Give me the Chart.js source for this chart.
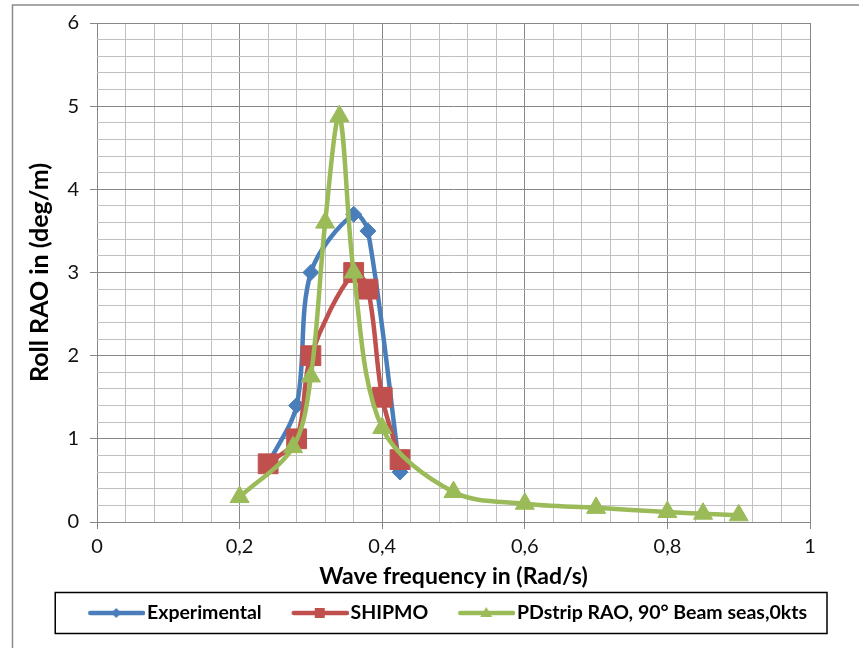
<!DOCTYPE html>
<html lang="en">
  <head>
    <meta charset="UTF-8" />
    <title>Roll RAO</title>
    <script src="https://cdn.jsdelivr.net/npm/chart.js"></script>
    <style>
      html, body { margin: 0; padding: 0; background: #fff; }
      #wrap { width: 859px; height: 648px; position: relative; }
    </style>
  </head>
  <body>
    <div id="wrap"><canvas id="rao"></canvas></div>

    <script>
      // data
      const expFreq = [0.24, 0.28, 0.30, 0.36, 0.38, 0.425];
      const expRao = [0.7, 1.4, 3.0, 3.7, 3.5, 0.6];

      const shipmoFreq = [0.24, 0.28, 0.30, 0.36, 0.38, 0.40, 0.425];
      const shipmoRao = [0.7, 1.0, 2.0, 3.0, 2.8, 1.5, 0.75];

      const pdFreq = [0.2, 0.275, 0.30, 0.32, 0.34, 0.36, 0.40, 0.50, 0.60, 0.70, 0.80, 0.85, 0.90];
      const pdRao = [0.3, 0.9, 1.75, 3.6, 4.88, 3.0, 1.13, 0.36, 0.22, 0.17, 0.12, 0.10, 0.08];

      const seriesNames = ["Experimental", "SHIPMO", "PDstrip RAO, 90° Beam seas,0kts"];
      const seriesColors = ["#4a7ebb", "#c0504d", "#9bbb59"];

      const toPoints = (xs, ys) => xs.map((x, i) => ({ x: x, y: ys[i] }));

      // legend marker: line with the point in the middle
      const ICON_BOX = 76;
      const ICON_W = 92;
      function legendIcon(color, shape) {
        const c = document.createElement("canvas");
        c.width = ICON_W;
        c.height = 18;
        const g = c.getContext("2d");
        const x0 = 27 - (ICON_BOX / 2 - ICON_W / 2);
        const cx = x0 + 28;
        g.strokeStyle = color;
        g.fillStyle = color;
        g.lineWidth = 4.5;
        g.lineCap = "round";
        g.beginPath();
        g.moveTo(x0 + 2, 9);
        g.lineTo(x0 + 55, 9);
        g.stroke();
        g.beginPath();
        if (shape === "diamond") {
          g.moveTo(cx, 4); g.lineTo(cx + 5, 9); g.lineTo(cx, 14); g.lineTo(cx - 5, 9);
        } else if (shape === "square") {
          g.rect(cx - 5, 4, 10, 10);
        } else {
          g.moveTo(cx, 3); g.lineTo(cx + 6, 13); g.lineTo(cx - 6, 13);
        }
        g.closePath();
        g.fill();
        return c;
      }
      const icons = [
        legendIcon(seriesColors[0], "diamond"),
        legendIcon(seriesColors[1], "square"),
        legendIcon(seriesColors[2], "triangle"),
      ];

      const isMajor = (v, step) => Math.abs(v / step - Math.round(v / step)) < 1e-6;

      // outer frame + box round the legend
      const frames = {
        id: "frames",
        beforeDraw(chart) {
          const ctx = chart.ctx;
          ctx.save();
          ctx.strokeStyle = "#8c8c8c";
          ctx.lineWidth = 1.5;
          ctx.strokeRect(12.5, 5, 900, 700);
          ctx.restore();
        },
        afterDraw(chart) {
          const boxes = chart.legend.legendHitBoxes;
          if (!boxes || !boxes.length) return;
          const first = boxes[0];
          const last = boxes[boxes.length - 1];
          const cy = first.top + first.height / 2;
          const ctx = chart.ctx;
          ctx.save();
          ctx.strokeStyle = "#000";
          ctx.lineWidth = 1.5;
          const left = first.left - 6;
          ctx.strokeRect(left, cy - 20.5, last.left + last.width + 20 - left, 41);
          ctx.restore();
        },
      };

      new Chart(document.getElementById("rao"), {
        type: "line",
        data: {
          datasets: [
            {
              label: seriesNames[0],
              data: toPoints(expFreq, expRao),
              borderColor: seriesColors[0],
              backgroundColor: seriesColors[0],
              pointStyle: "rectRot",
              pointRadius: 8,
              order: 3,
            },
            {
              label: seriesNames[1],
              data: toPoints(shipmoFreq, shipmoRao),
              borderColor: seriesColors[1],
              backgroundColor: seriesColors[1],
              pointStyle: "rect",
              pointRadius: 14,
              order: 2,
            },
            {
              label: seriesNames[2],
              data: toPoints(pdFreq, pdRao),
              borderColor: seriesColors[2],
              backgroundColor: seriesColors[2],
              pointStyle: "triangle",
              pointRadius: 11,
              order: 1,
            },
          ],
        },
        options: {
          responsive: true,
          maintainAspectRatio: false,
          animation: false,
          layout: { padding: { left: 24, right: 49, top: 13, bottom: 15.25 } },
          elements: {
            line: { borderWidth: 4.5, tension: 0.33, fill: false },
            point: { borderWidth: 1, hoverRadius: 8 },
          },
          plugins: {
            tooltip: { enabled: false },
            legend: {
              position: "bottom",
              align: "end",
              labels: {
                usePointStyle: true,
                pointStyleWidth: ICON_BOX,
                padding: 3,
                color: "#000",
                font: { family: "Lato", size: 19.5, weight: "bold" },
                sort: (a, b) => a.datasetIndex - b.datasetIndex,
                generateLabels(chart) {
                  return chart.data.datasets.map((ds, i) => ({
                    text: ds.label,
                    datasetIndex: i,
                    pointStyle: icons[i],
                    fillStyle: ds.borderColor,
                    strokeStyle: ds.borderColor,
                    lineWidth: 0,
                    hidden: false,
                    fontColor: "#000",
                  }));
                },
              },
            },
          },
          scales: {
            x: {
              type: "linear",
              min: 0,
              max: 1,
              afterFit(scale) { scale.height = 78.25; },
              ticks: {
                stepSize: 0.04,
                autoSkip: false,
                maxRotation: 0,
                padding: 6,
                color: "#111",
                font: { family: "Lato", size: 20 },
                callback: (v) => (isMajor(v, 0.2) ? String(Math.round(v * 10) / 10).replace(".", ",") : ""),
              },
              grid: {
                color: (c) => (isMajor(c.tick.value, 0.2) ? "#878787" : "#c0c0c0"),
                tickColor: (c) => (isMajor(c.tick.value, 0.2) ? "#878787" : "transparent"),
                tickLength: 7,
              },
              border: { display: false },
              title: {
                display: true,
                text: "Wave frequency in (Rad/s)",
                color: "#000",
                font: { family: "Lato", size: 23, weight: "bold", lineHeight: 1.2 },
                padding: { top: 0, bottom: 10 },
              },
            },
            y: {
              min: 0,
              max: 6,
              afterFit(scale) { scale.width = 73; },
              ticks: {
                stepSize: 0.2,
                autoSkip: false,
                padding: 11,
                color: "#111",
                font: { family: "Lato", size: 20 },
                callback: (v) => (isMajor(v, 1) ? String(Math.round(v)) : ""),
              },
              grid: {
                color: (c) => (isMajor(c.tick.value, 1) ? "#878787" : "#c0c0c0"),
                tickColor: (c) => (isMajor(c.tick.value, 1) ? "#878787" : "transparent"),
                tickLength: 7,
              },
              border: { display: false },
              title: {
                display: true,
                text: "Roll RAO in (deg/m)",
                color: "#000",
                font: { family: "Lato", size: 25, weight: "bold", lineHeight: 1.2 },
                padding: { top: 1, bottom: 0 },
              },
            },
          },
        },
        plugins: [frames],
      });
    </script>
  </body>
</html>
